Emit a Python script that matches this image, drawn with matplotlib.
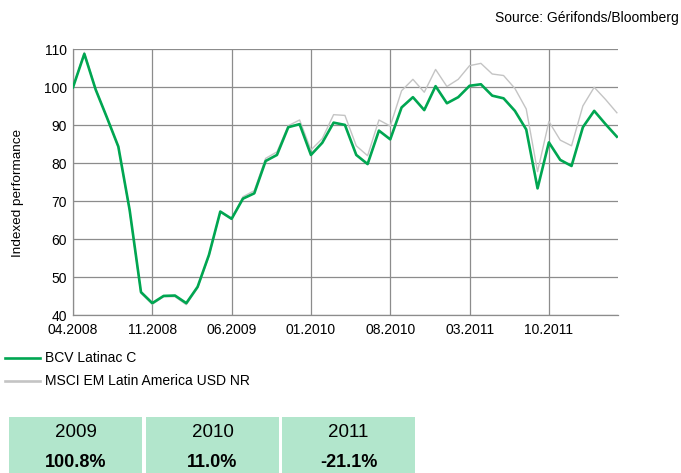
import matplotlib
matplotlib.use('Agg')
import matplotlib.pyplot as plt
from matplotlib.patches import Rectangle
from matplotlib.lines import Line2D

plt.rcParams['font.family'] = ['Liberation Sans', 'DejaVu Sans']

# monthly data 04.2008 - 04.2012
months = ['04.2008', '05.2008', '06.2008', '07.2008', '08.2008', '09.2008', '10.2008',
          '11.2008', '12.2008', '01.2009', '02.2009', '03.2009', '04.2009', '05.2009',
          '06.2009', '07.2009', '08.2009', '09.2009', '10.2009', '11.2009', '12.2009',
          '01.2010', '02.2010', '03.2010', '04.2010', '05.2010', '06.2010', '07.2010',
          '08.2010', '09.2010', '10.2010', '11.2010', '12.2010', '01.2011', '02.2011',
          '03.2011', '04.2011', '05.2011', '06.2011', '07.2011', '08.2011', '09.2011',
          '10.2011', '11.2011', '12.2011', '01.2012', '02.2012', '03.2012', '04.2012']
latinac = [100.0, 108.8, 99.4, 92.0, 84.4, 67.7, 46.1, 43.2, 45.1, 45.2, 43.2, 47.5,
           55.9, 67.3, 65.4, 70.7, 72.1, 80.6, 82.2, 89.5, 90.3, 82.2, 85.4, 90.7,
           90.1, 82.2, 79.8, 88.6, 86.3, 94.7, 97.4, 94.0, 100.3, 95.8, 97.4, 100.4,
           100.8, 97.8, 97.1, 93.8, 88.9, 73.4, 85.5, 80.9, 79.3, 89.5, 93.8, 90.3, 87.0]
msci = [100.0, 109.2, 99.6, 92.0, 84.2, 67.4, 45.8, 42.9, 44.9, 44.9, 42.8, 47.2,
        55.6, 67.2, 65.2, 71.2, 72.8, 81.3, 83.0, 89.9, 91.4, 83.5, 86.5, 92.8,
        92.6, 84.6, 82.0, 91.4, 89.8, 99.1, 102.1, 98.7, 104.7, 100.2, 102.1, 105.7,
        106.3, 103.5, 103.1, 99.7, 94.3, 77.8, 91.0, 86.1, 84.6, 95.1, 100.0, 96.8, 93.3]
years = ['2009', '2010', '2011']
perf = ['100.8%', '11.0%', '-21.1%']

green = '#00a651'
grey = '#c4c4c4'

fig = plt.figure(figsize=(6.81, 4.73), dpi=100)
ax = fig.add_axes([73 / 681, 1 - 315.3 / 473, 545 / 681, 266 / 473])

x = list(range(len(months)))
ax.plot(x, msci, color=grey, lw=1.0, zorder=3)
ax.plot(x, latinac, color=green, lw=1.9, zorder=4)

ax.set_xlim(0, 48.1)
ax.set_ylim(40, 110)
ax.set_yticks(range(40, 111, 10))
ax.set_xticks(x[::7])
ax.set_xticklabels(months[::7])
ax.tick_params(length=0, labelsize=10, colors='black')
ax.tick_params(axis='y', pad=4.5)
ax.tick_params(axis='x', pad=5.5)
ax.grid(True, color='#8c8c8c', lw=0.9)
ax.set_axisbelow(True)
for s in ['top', 'right']:
    ax.spines[s].set_visible(False)
for s in ['left', 'bottom']:
    ax.spines[s].set_color('#8c8c8c')
    ax.spines[s].set_linewidth(0.9)

fig.text(18 / 681, 1 - 192.5 / 473, 'Indexed performance', rotation=90,
         ha='center', va='center', fontsize=9.7)

fig.text(679 / 681, 1 - 18 / 473, 'Source: Gérifonds/Bloomberg', ha='right', va='center', fontsize=10)

# legend
fig.add_artist(Line2D([5 / 681, 40 / 681], [1 - 358 / 473] * 2, color=green, lw=1.9))
fig.text(45 / 681, 1 - 358 / 473, 'BCV Latinac C', va='center', fontsize=10)
fig.add_artist(Line2D([5 / 681, 40 / 681], [1 - 381 / 473] * 2, color=grey, lw=1.9))
fig.text(45 / 681, 1 - 381 / 473, 'MSCI EM Latin America USD NR', va='center', fontsize=10)

# yearly performance boxes
lefts = [9, 146, 282]
for i in range(3):
    l = lefts[i]
    fig.add_artist(Rectangle((l / 681, 0), 133 / 681, (473 - 417) / 473,
                             transform=fig.transFigure, color='#b2e6cc', lw=0))
    fig.text((l + 66.5) / 681, 1 - 432 / 473, years[i], ha='center', va='center', fontsize=13.5)
    fig.text((l + 66.5) / 681, 1 - 462 / 473, perf[i], ha='center', va='center', fontsize=13,
             fontweight='bold')

fig.savefig('out.png', dpi=100)
